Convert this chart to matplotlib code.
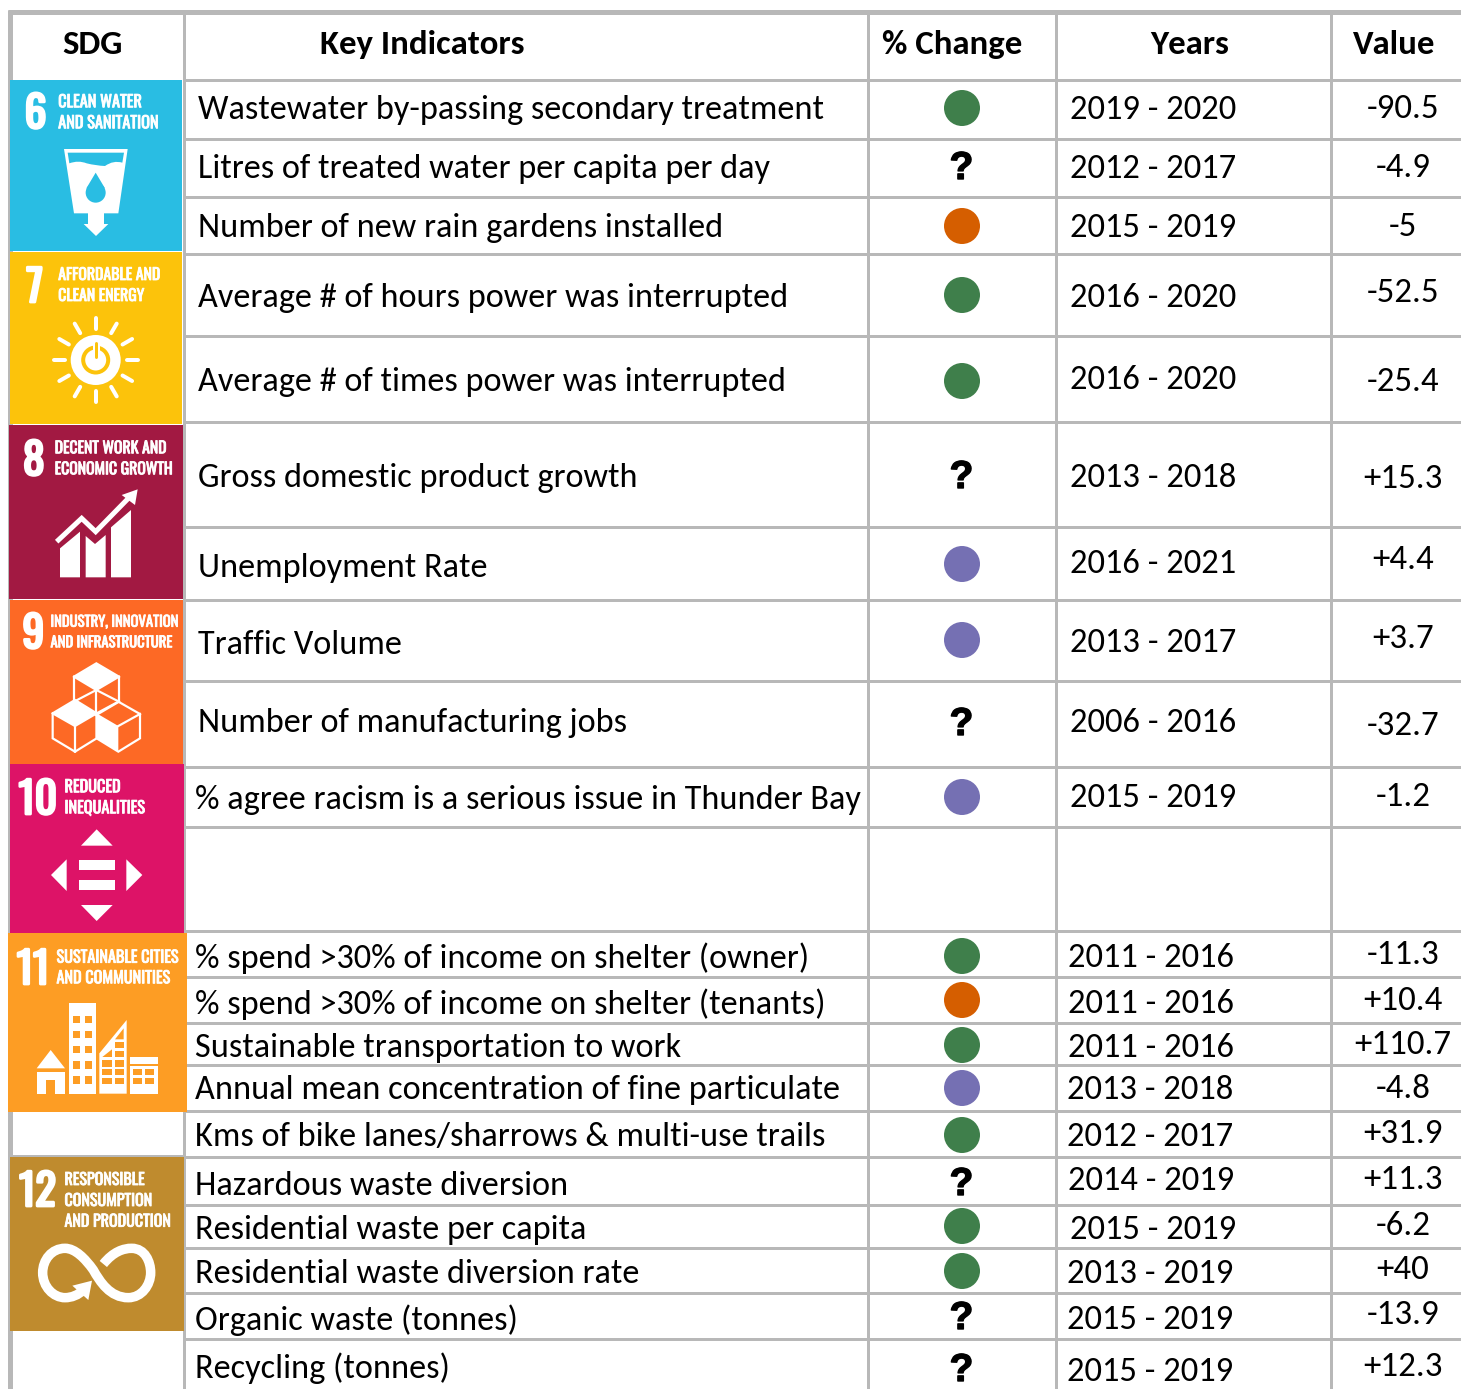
import matplotlib
matplotlib.use("Agg")
import matplotlib.pyplot as plt
import numpy as np
from matplotlib.patches import Rectangle, Polygon, Circle, PathPatch
from matplotlib.path import Path
from matplotlib.textpath import TextPath
from matplotlib import font_manager as fm
from matplotlib import patheffects as pe

# ---------- data ----------
headers = ["SDG", "Key Indicators", "% Change", "Years", "Value"]
indicators = [
    "Wastewater by-passing secondary treatment",
    "Litres of treated water per capita per day",
    "Number of new rain gardens installed",
    "Average # of hours power was interrupted",
    "Average # of times power was interrupted",
    "Gross domestic product growth",
    "Unemployment Rate",
    "Traffic Volume",
    "Number of manufacturing jobs",
    "% agree racism is a serious issue in Thunder Bay",
    "% spend >30% of income on shelter (owner)",
    "% spend >30% of income on shelter (tenants)",
    "Sustainable transportation to work",
    "Annual mean concentration of fine particulate",
    "Kms of bike lanes/sharrows & multi-use trails",
    "Hazardous waste diversion",
    "Residential waste per capita",
    "Residential waste diversion rate",
    "Organic waste (tonnes)",
    "Recycling (tonnes)",
]
status = ["good", "unknown", "bad", "good", "good", "unknown", "neutral", "neutral", "unknown", "neutral",
          "good", "bad", "good", "neutral", "good", "unknown", "good", "good", "unknown", "unknown"]
years = ["2019 - 2020", "2012 - 2017", "2015 - 2019", "2016 - 2020", "2016 - 2020", "2013 - 2018",
         "2016 - 2021", "2013 - 2017", "2006 - 2016", "2015 - 2019", "2011 - 2016", "2011 - 2016",
         "2011 - 2016", "2013 - 2018", "2012 - 2017", "2014 - 2019", "2015 - 2019", "2013 - 2019",
         "2015 - 2019", "2015 - 2019"]
values = ["-90.5", "-4.9", "-5", "-52.5", "-25.4", "+15.3", "+4.4", "+3.7", "-32.7", "-1.2",
          "-11.3", "+10.4", "+110.7", "-4.8", "+31.9", "+11.3", "-6.2", "+40", "-13.9", "+12.3"]

sdg_numbers = ["6", "7", "8", "9", "10", "11", "12"]
sdg_captions = [["CLEAN WATER", "AND SANITATION"], ["AFFORDABLE AND", "CLEAN ENERGY"],
                ["DECENT WORK AND", "ECONOMIC GROWTH"], ["INDUSTRY, INNOVATION", "AND INFRASTRUCTURE"],
                ["REDUCED", "INEQUALITIES"], ["SUSTAINABLE CITIES", "AND COMMUNITIES"],
                ["RESPONSIBLE", "CONSUMPTION", "AND PRODUCTION"]]
sdg_colors = ["#29BDE3", "#FCC30B", "#A21942", "#FD6925", "#DD1367", "#FD9D24", "#BF8B2E"]

# ---------- layout (pixels) ----------
W, H = 1461, 1389
h_lines = [80, 139, 197, 254, 336, 422, 527, 600, 681, 767, 827, 931, 977, 1023, 1065, 1111, 1157, 1205, 1248, 1293, 1339]
v_lines = [184, 868, 1056, 1331]
text_x = [198]*9 + [195]*11
text_y = [107, 166, 225, 295, 379, 475, 565, 642, 720, 797, 955, 1001, 1045, 1087, 1134, 1183, 1227, 1271, 1317, 1365]
mark_y = [108, 165, 226, 295, 381, 474, 564, 640, 721, 797, 956, 1000, 1045, 1088, 1135, 1181, 1226, 1271, 1315, 1367]
year_x = [1153.5]*10 + [1150.5]*5 + [1151.5, 1153.5, 1150.5, 1150.5, 1150.5]
year_y = [107, 166, 225, 295, 377, 475, 561, 640, 720, 795, 955, 1001, 1045, 1087, 1134, 1178, 1227, 1271, 1317, 1369]
value_y = [106, 165, 224, 290, 379, 476, 557, 636, 723, 794, 952, 998, 1042, 1086, 1131, 1177, 1223, 1267, 1312, 1364]
header_x = [92.5, 422, 952, 1189.5, 1394]
tile_boxes = [(10, 80, 182, 251), (10, 252, 182, 424), (9, 425, 183, 599), (10, 600, 183, 764),
              (10, 764, 184, 933), (8, 933, 187, 1112), (10, 1157, 184, 1331)]
num_pos = [(35.5, 128), (34.7, 302), (33.8, 475), (33.3, 648), (37.8, 814), (33, 984), (37.5, 1206)]
cap_x = [58.2, 58.2, 54.7, 50.5, 64.5, 56.5, 64.5]
cap_base = [[107.3, 128.3], [280, 301], [453.3, 474.3], [626.7, 647.3], [792.3, 813.3], [962.7, 983.3], [1185, 1206, 1226.7]]
cap_width = [99, 101, 116, 126, 79, 121, 105]
status_colors = {"good": "#3F7F4B", "bad": "#D55E00", "neutral": "#7570B3"}
GRID = "#B8B8B8"
WHITE = "white"

installed = {f.name for f in fm.fontManager.ttflist}


def first_font(*names):
    for n in names:
        if n in installed:
            return n
    return "DejaVu Sans"


BODY_FONT = first_font("Carlito", "Lato")
TILE_FONT = first_font("Oswald", "Bebas Neue", "Antonio", "Sofia Sans Extra Condensed", "Saira ExtraCondensed",
                       "Barlow Condensed", "Roboto Condensed", "Liberation Sans")
plt.rcParams["font.family"] = [BODY_FONT, "DejaVu Sans"]


def px_extents(s, family, weight="normal"):
    fp = fm.FontProperties(family=family, weight=weight)
    return TextPath((0, 0), s, size=100, prop=fp).get_extents()


def size_for_width(s, px, family, weight="normal"):
    # size in points at 100 dpi whose drawn string is px wide
    return 100*(px*0.72)/px_extents(s, family, weight).width


BODY = size_for_width(indicators[0], 625, BODY_FONT)
YEAR = size_for_width(years[0], 164, BODY_FONT)
VALUE = size_for_width("+110.7", 95, BODY_FONT)
HEAD = size_for_width(headers[1], 202, BODY_FONT, "bold")
NUM = 100*(35.5*0.72)/px_extents("8", TILE_FONT, "bold").height

fig = plt.figure(figsize=(W/100, H/100), dpi=100, facecolor="white")
ax = fig.add_axes([0, 0, 1, 1])
ax.set_xlim(0, W)
ax.set_ylim(H, 0)
ax.axis("off")

# grid
lw_px = 72/100
for y in h_lines:
    ax.plot([184, W], [y, y], color=GRID, lw=3*lw_px, solid_capstyle="butt", zorder=1)
for x in v_lines:
    ax.plot([x, x], [12, H], color=GRID, lw=3*lw_px, solid_capstyle="butt", zorder=1)
ax.plot([10, 10], [10, H], color=GRID, lw=5*lw_px, solid_capstyle="butt", zorder=1)
ax.plot([8, W], [12, 12], color=GRID, lw=5*lw_px, solid_capstyle="butt", zorder=1)
ax.plot([10, 184], [1156, 1156], color=GRID, lw=3*lw_px, solid_capstyle="butt", zorder=1)

# header and rows
for x, h in zip(header_x, headers):
    ax.text(x, 42, h, ha="center", va="center_baseline", fontsize=HEAD, fontweight="bold", color="black")
for i, (name, st, yr, val) in enumerate(zip(indicators, status, years, values)):
    ax.text(text_x[i], text_y[i], name, ha="left", va="center_baseline", fontsize=BODY, color="black")
    ax.text(year_x[i], year_y[i], yr, ha="center", va="center_baseline", fontsize=YEAR, color="black")
    ax.text(1403, value_y[i], val, ha="center", va="center_baseline", fontsize=VALUE, color="black")
    if st == "unknown":
        ax.text(961.5, mark_y[i], "?", ha="center", va="center_baseline", fontsize=28, fontweight="bold",
                family="Liberation Sans", color="black",
                path_effects=[pe.withStroke(linewidth=1.0, foreground="black")])
    else:
        ax.add_patch(Circle((962, mark_y[i]), 18, color=status_colors[st], lw=0, zorder=3))

# tiles
for box, c in zip(tile_boxes, sdg_colors):
    ax.add_patch(Rectangle((box[0], box[1]), box[2]-box[0], box[3]-box[1], color=c, lw=0, zorder=4))

num_fx = [pe.withStroke(linewidth=2.0, foreground="white")]
cap_fx = [pe.withStroke(linewidth=0.6, foreground="white")]
for (nx, ny), n, cx, bases, cw, cap in zip(num_pos, sdg_numbers, cap_x, cap_base, cap_width, sdg_captions):
    ax.text(nx, ny, n, ha="center", va="baseline", fontsize=NUM, fontweight="bold", family=TILE_FONT,
            color="white", zorder=6, path_effects=num_fx)
    widest = max(cap, key=lambda s: px_extents(s, TILE_FONT).width)
    fs = size_for_width(widest, cw, TILE_FONT)
    for line, cy in zip(cap, bases):
        ax.text(cx, cy, line, ha="left", va="baseline", fontsize=fs, family=TILE_FONT, color="white", zorder=6,
                path_effects=cap_fx)


def Z(pts, y0=0):
    return [(x/3, y0 + y/3) for x, y in pts]


def poly(pts, y0=0, c=WHITE, z=5):
    ax.add_patch(Polygon(Z(pts, y0), closed=True, facecolor=c, edgecolor="none", lw=0, zorder=z))


def rect(x0, y0_, x1, y1, off=0, c=WHITE, z=5):
    ax.add_patch(Rectangle((x0/3, off+y0_/3), (x1-x0)/3, (y1-y0_)/3, facecolor=c, edgecolor="none", lw=0, zorder=z))


# icon 6 : glass
blue = sdg_colors[0]
poly([(192, 447), (383, 447), (355, 640), (312, 640), (312, 672), (325, 672), (288, 708), (251, 672),
      (264, 672), (264, 640), (222, 640)])
ax.add_patch(PathPatch(Path(Z([(203, 458), (372, 458), (367, 488), (340, 480), (315, 498), (288, 497), (260, 490), (235, 480), (208, 490), (203, 458)]),
                            [1, 2, 2, 3, 3, 3, 3, 3, 3, 79]), facecolor=blue, lw=0, zorder=6))
ax.add_patch(Circle((287/3, 578/3), 10, color=blue, lw=0, zorder=6))
poly([(287, 518), (259, 565), (315, 565)], c=blue, z=6)

# icon 7 : sun
yel = sdg_colors[1]
sx, sy = 95.7, 360
ax.add_patch(Circle((sx, sy), 25, color=WHITE, lw=0, zorder=5))
ax.add_patch(Circle((sx, sy), 12.5, fill=False, ec=yel, lw=4*lw_px, zorder=6))
ax.plot([sx, sx], [sy-18, sy-1], color=WHITE, lw=7*lw_px, solid_capstyle="round", zorder=6)
ax.plot([sx, sx], [sy-17, sy-3], color=yel, lw=3*lw_px, solid_capstyle="round", zorder=7)
for ang in np.arange(0, 360, 30):
    a = np.radians(ang)
    ax.plot([sx+31*np.cos(a), sx+42*np.cos(a)], [sy+31*np.sin(a), sy+42*np.sin(a)],
            color=WHITE, lw=4*lw_px, solid_capstyle="round", zorder=5)

# icon 8 : growth
o8 = 420
poly([(180, 472), (180, 385), (240, 335), (240, 472)], o8)
poly([(257, 472), (257, 348), (285, 372), (317, 345), (317, 472)], o8)
poly([(333, 472), (333, 322), (393, 270), (393, 472)], o8)
xy = np.array(Z([(170, 365), (245, 295), (287, 335), (385, 235)], o8))
ax.plot(xy[:, 0], xy[:, 1], color=WHITE, lw=5*lw_px, solid_joinstyle="miter", solid_capstyle="butt", zorder=5)
poly([(413, 208), (365, 225), (405, 255)], o8)

# icon 9 : cubes
for pts, face in [
    ([(289, 730), (357, 770), (357, 845), (289, 885), (222, 845), (222, 770)], [(289, 730), (357, 770), (289, 810), (222, 770)]),
    ([(225, 840), (290, 880), (290, 955), (225, 995), (158, 955), (158, 880)], [(225, 840), (290, 880), (225, 918), (158, 880)]),
    ([(355, 845), (420, 882), (420, 955), (355, 995), (290, 955), (290, 880)], [(290, 880), (355, 918), (355, 995), (290, 955)]),
]:
    ax.add_patch(Polygon(Z(pts, o8), closed=True, fill=False, ec=WHITE, lw=2.2*lw_px, zorder=5))
for face in [[(222, 770), (289, 730), (357, 770), (289, 810)], [(290, 880), (355, 918), (355, 995), (290, 955)],
             [(225, 840), (290, 880), (225, 918), (158, 880)]]:
    poly(face, o8)
for seg in [[(222, 770), (289, 810), (357, 770)], [(289, 810), (289, 885)], [(158, 880), (225, 918), (225, 995)],
            [(355, 918), (420, 882)], [(225, 918), (290, 880)], [(222, 845), (289, 810)], [(357, 845), (289, 810)]]:
    xy = np.array(Z(seg, o8))
    ax.plot(xy[:, 0], xy[:, 1], color=WHITE, lw=2.2*lw_px, zorder=5)

# icon 10 : arrows
poly([(290, 1228), (338, 1277), (243, 1277)], o8)
poly([(243, 1455), (338, 1455), (290, 1503)], o8)
poly([(200, 1318), (200, 1413), (153, 1365)], o8)
poly([(379, 1318), (379, 1413), (427, 1365)], o8)
rect(237, 1320, 344, 1350, o8)
rect(237, 1381, 344, 1411, o8)

# icon 11 : city
o11 = 920
org = sdg_colors[5]
poly([(152, 390), (195, 445), (110, 445)], o11)
rect(110, 455, 194, 521, o11)
rect(137, 480, 166, 521, o11, c=org, z=6)
rect(206, 250, 288, 521, o11)
for y0, y1 in [(287, 310), (332, 355), (378, 400), (423, 446), (469, 492)]:
    rect(219, y0, 240, y1, o11, c=org, z=6)
    rect(254, y0, 275, y1, o11, c=org, z=6)
poly([(298, 521), (298, 400), (380, 300), (380, 521)], o11)
poly([(345, 358), (371, 325), (371, 358)], o11, c=org, z=6)
poly([(344, 385), (371, 385), (371, 365), (344, 365)], o11, c=org, z=6)
poly([(307, 411), (336, 388), (336, 411)], o11, c=org, z=6)
rect(344, 392, 371, 411, o11, c=org, z=6)
for y0, y1 in [(420, 440), (447, 465), (473, 491)]:
    rect(307, y0, 336, y1, o11, c=org, z=6)
    rect(344, y0, 371, y1, o11, c=org, z=6)
rect(389, 412, 473, 432, o11)
rect(389, 437, 473, 521, o11)
for y0, y1 in [(447, 465), (473, 491)]:
    rect(399, y0, 427, y1, o11, c=org, z=6)
    rect(435, y0, 463, y1, o11, c=org, z=6)

# icon 12 : infinity loop
verts = [(310, 1032), (340, 995), (370, 985), (395, 985), (435, 985), (452, 1025), (452, 1058),
         (452, 1095), (425, 1133), (385, 1133), (330, 1133), (300, 1085), (280, 1050),
         (255, 1015), (225, 985), (195, 985), (155, 985), (128, 1020), (128, 1058),
         (128, 1100), (160, 1133), (195, 1133), (215, 1133), (235, 1125), (250, 1110)]
codes = [Path.MOVETO] + [Path.CURVE4]*24
ax.add_patch(PathPatch(Path(Z(verts, o11), codes), fill=False, ec=WHITE, lw=9.5*lw_px, zorder=5))
poly([(217, 1097), (276, 1082), (265, 1140)], o11)

fig.savefig("out.png", dpi=100, facecolor="white")
